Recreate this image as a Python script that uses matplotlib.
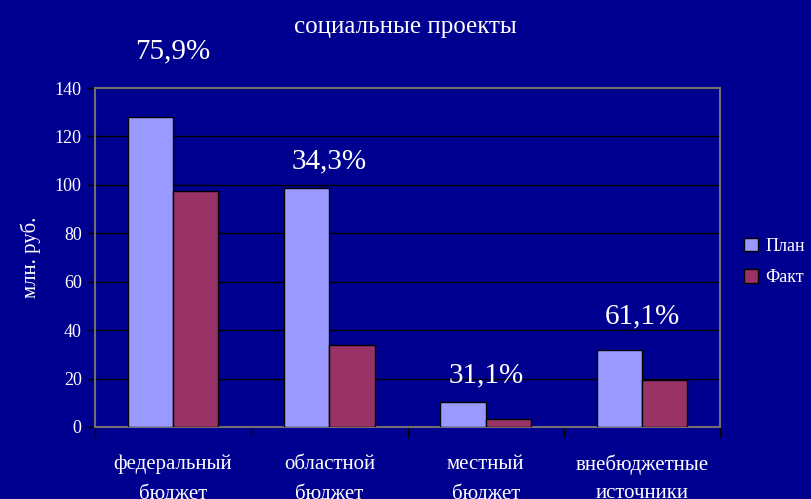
import numpy as np
import matplotlib.pyplot as plt
from matplotlib.patches import Patch

# values (млн. руб.)
categories = ["федеральный\nбюджет", "областной\nбюджет", "местный\nбюджет", "внебюджетные\nисточники"]
plan = [128.2, 98.9, 10.3, 31.8]
fact = [97.3, 33.9, 3.2, 19.4]
pct_labels = ["75,9%", "34,3%", "31,1%", "61,1%"]

bg = "#000090"
plan_color = "#9999FF"
fact_color = "#993366"
serif = ["Liberation Serif", "DejaVu Serif"]
plt.rcParams["font.family"] = serif

fig = plt.figure(figsize=(8.11, 4.99), dpi=100, facecolor=bg)
ax = fig.add_axes([0.117, 0.1443, 0.771, 0.6793], facecolor=bg)

x = np.arange(len(categories))
w = 0.29
ax.bar(x - w / 2, plan, w, color=plan_color, edgecolor="black", linewidth=1, zorder=3)
ax.bar(x + w / 2, fact, w, color=fact_color, edgecolor="black", linewidth=1, zorder=3)

# percentage labels above each group (offsets in points from the plan bar top)
offsets = [47, 19, 19, 24]
for xi, p, lab, off in zip(x, plan, pct_labels, offsets):
    ax.annotate(lab, (xi, p), xytext=(0, off), textcoords="offset points",
                ha="center", va="center", color="white", fontsize=21,
                annotation_clip=False)

ax.set_xlim(-0.5, len(categories) - 0.5)
ax.set_ylim(0, 140)
ax.set_yticks(np.arange(0, 141, 20))
ax.yaxis.grid(True, color="black", linewidth=1, zorder=0)
ax.tick_params(axis="y", colors="white", labelsize=13, length=6, color="black", width=1)

ax.set_xticks(np.arange(-0.5, len(categories), 1.0))
ax.set_xticklabels([])
ax.tick_params(axis="x", which="major", length=7, color="black", width=1)
ax.set_xticks(x, minor=True)
ax.set_xticklabels(categories, minor=True, color="white", fontsize=15, linespacing=1.6)
ax.tick_params(axis="x", which="minor", length=0, pad=20)

for s in ax.spines.values():
    s.set_color("#707070")
    s.set_linewidth(1.5)

ax.set_ylabel("млн. руб.", color="white", fontsize=15, labelpad=10)
fig.text(0.5, 0.945, "социальные проекты", ha="center", va="center", color="white", fontsize=18)

handles = [Patch(facecolor=plan_color, edgecolor="black", label="План"),
           Patch(facecolor=fact_color, edgecolor="black", label="Факт")]
fig.legend(handles=handles, loc="center left", bbox_to_anchor=(0.917, 0.475),
           frameon=False, fontsize=13, labelcolor="white", handlelength=0.8,
           handleheight=0.8, handletextpad=0.4, labelspacing=0.8, borderpad=0,
           borderaxespad=0)

plt.savefig("out.png", dpi=100, facecolor=bg)
